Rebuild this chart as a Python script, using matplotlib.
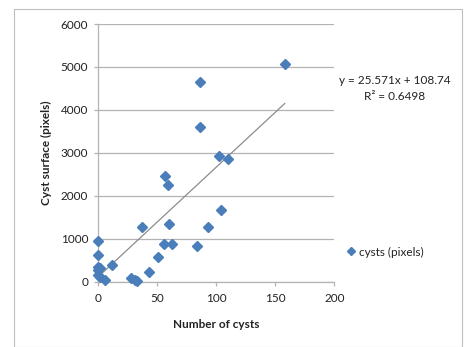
import matplotlib.pyplot as plt
from matplotlib.patches import Rectangle

# cysts counted vs cyst surface (pixels)
n_cysts = [86, 86, 158, 102, 110, 57, 59, 104, 37, 60, 93, 56, 63, 84, 51, 43,
           12, 28, 31, 33, 6, 0, 0, 0, 0, 0, 2, 2]
surface = [4660, 3610, 5060, 2930, 2850, 2450, 2250, 1670, 1280, 1340, 1280, 885,
           885, 830, 575, 220, 390, 95, 40, 5, 30, 950, 620, 350, 270, 155, 115, 310]

slope = 25.571
intercept = 108.74
r2 = 0.6498

plt.rcParams['font.family'] = ['Lato', 'DejaVu Sans']
plt.rcParams['font.size'] = 8.5

fig = plt.figure(figsize=(4.67, 3.47), dpi=100)
ax = fig.add_axes([0.2099, 0.1882, 0.716 - 0.2099, 0.9308 - 0.1882])

# outer frame of the chart area
fig.patches.append(Rectangle((14 / 467, 0.0), 448 / 467, 1 - 9 / 347,
                             transform=fig.transFigure, fill=False,
                             edgecolor="#bfbfbf", linewidth=0.8))

ax.plot(n_cysts, surface, "D", color="#4a7ebb", ms=5, label="cysts (pixels)",
        zorder=3, clip_on=False)

xs = [min(n_cysts), max(n_cysts)]
ax.plot(xs, [slope * x + intercept for x in xs], color="#8c8c8c", linewidth=0.9, zorder=2)

ax.set_xlim(0, 200)
ax.set_ylim(0, 6000)
ax.set_xticks([0, 50, 100, 150, 200])
ax.set_yticks([0, 1000, 2000, 3000, 4000, 5000, 6000])
ax.grid(axis="y", color="#b3b3b3", linewidth=0.9)
ax.set_axisbelow(True)
for s in ["top", "right"]:
    ax.spines[s].set_visible(False)
for s in ["left", "bottom"]:
    ax.spines[s].set_color("#b3b3b3")
    ax.spines[s].set_linewidth(0.9)
ax.tick_params(axis="both", colors="#b3b3b3", labelcolor="#222222", length=3, width=0.9)
ax.tick_params(axis="x", pad=5)
ax.tick_params(axis="y", pad=4)

ax.set_xlabel("Number of cysts", fontweight="bold", labelpad=11, color="#222222")
ax.set_ylabel("Cyst surface (pixels)", fontweight="bold", labelpad=6, color="#222222")

fig.text(395 / 467, 1 - 80 / 347, f"y = {slope}x + {intercept}", ha="center", va="center",
         color="#222222")
fig.text(395 / 467, 1 - 96 / 347, f"R² = {r2}", ha="center", va="center", color="#222222")

ax.legend(loc="center left", bbox_to_anchor=(347 / 467, 1 - 252 / 347),
          bbox_transform=fig.transFigure, frameon=False, handlelength=0.6,
          handletextpad=0.4, markerscale=0.8, borderpad=0, borderaxespad=0,
          labelcolor="#222222")

fig.savefig("out.png", dpi=100)
